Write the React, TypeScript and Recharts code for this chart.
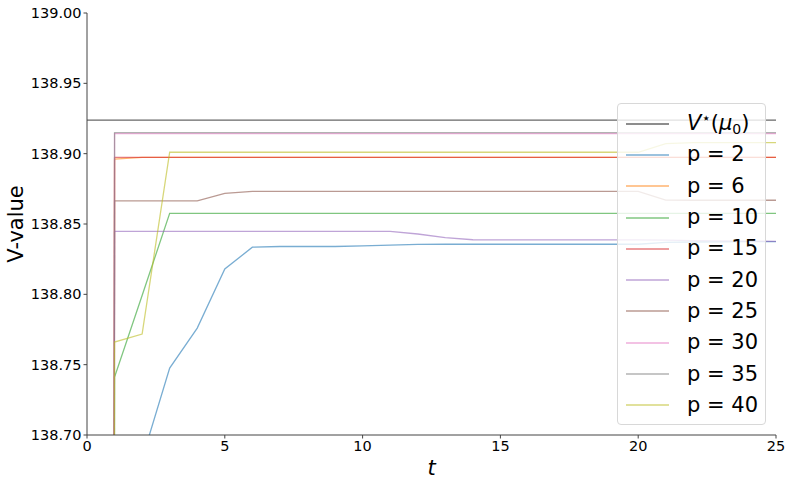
import React from "react";
import { LineChart, Line, XAxis, YAxis, ReferenceLine } from "recharts";

// time steps and value estimates
const T = [0, 1, 2, 3, 4, 5, 6, 7, 8, 9, 10, 11, 12, 13, 14, 15, 16, 17, 18, 19, 20, 21, 22, 23, 24, 25];

const V_STAR = 138.9239;

const P2 = [120.0, 137.9, 138.683, 138.7476, 138.776, 138.818, 138.8335, 138.834, 138.834, 138.834, 138.8345, 138.835, 138.8355, 138.8356, 138.8356, 138.8356, 138.8356, 138.8356, 138.8356, 138.8356, 138.8356, 138.837, 138.8372, 138.8373, 138.8374, 138.8375];
const P6 = [120.0, 138.8962, 138.8973, 138.8973, 138.8973, 138.8973, 138.8973, 138.8973, 138.8973, 138.8973, 138.8973, 138.8973, 138.8973, 138.8973, 138.8973, 138.8973, 138.8973, 138.8973, 138.8973, 138.8973, 138.8973, 138.8973, 138.8973, 138.8973, 138.8973, 138.8973];
const P10 = [120.0, 138.7412, 138.7992, 138.8576, 138.8576, 138.8576, 138.8576, 138.8576, 138.8576, 138.8576, 138.8576, 138.8576, 138.8576, 138.8576, 138.8576, 138.8576, 138.8576, 138.8576, 138.8576, 138.8576, 138.8576, 138.8576, 138.8576, 138.8576, 138.8576, 138.8576];
const P15 = [120.0, 138.8973, 138.8973, 138.8973, 138.8973, 138.8973, 138.8973, 138.8973, 138.8973, 138.8973, 138.8973, 138.8973, 138.8973, 138.8973, 138.8973, 138.8973, 138.8973, 138.8973, 138.8973, 138.8973, 138.8973, 138.8973, 138.8973, 138.8973, 138.8973, 138.8973];
const P20 = [120.0, 138.8448, 138.8448, 138.8448, 138.8448, 138.8448, 138.8448, 138.8448, 138.8448, 138.8448, 138.8448, 138.8448, 138.8429, 138.8403, 138.8388, 138.8387, 138.8387, 138.8387, 138.8387, 138.8387, 138.8387, 138.8385, 138.8382, 138.838, 138.8378, 138.8377];
const P25 = [120.0, 138.8664, 138.8664, 138.8664, 138.8664, 138.8718, 138.8732, 138.8732, 138.8732, 138.8732, 138.8732, 138.8732, 138.8732, 138.8732, 138.8732, 138.8732, 138.8732, 138.8732, 138.8732, 138.8732, 138.8732, 138.867, 138.8669, 138.8669, 138.8669, 138.8669];
const P30 = [120.0, 138.9142, 138.9142, 138.9142, 138.9142, 138.9142, 138.9142, 138.9142, 138.9142, 138.9142, 138.9142, 138.9142, 138.9142, 138.9142, 138.9142, 138.9142, 138.9142, 138.9142, 138.9142, 138.9142, 138.9142, 138.9142, 138.9142, 138.9142, 138.9142, 138.9142];
const P35 = [120.0, 138.9149, 138.9149, 138.9149, 138.9149, 138.9149, 138.9149, 138.9149, 138.9149, 138.9149, 138.9149, 138.9149, 138.9149, 138.9149, 138.9149, 138.9149, 138.9149, 138.9149, 138.9149, 138.9149, 138.9149, 138.9149, 138.9149, 138.9149, 138.9149, 138.9149];
const P40 = [120.0, 138.7661, 138.7718, 138.901, 138.901, 138.901, 138.901, 138.901, 138.901, 138.901, 138.901, 138.901, 138.901, 138.901, 138.901, 138.901, 138.901, 138.901, 138.901, 138.901, 138.901, 138.9072, 138.9078, 138.9078, 138.9078, 138.9078];

const X_TICKS = [0, 5, 10, 15, 20, 25];
const Y_TICKS = [138.7, 138.75, 138.8, 138.85, 138.9, 138.95, 139.0];

const SERIES = [
  { key: "p2", name: "p = 2", values: P2, color: "#1f77b4" },
  { key: "p6", name: "p = 6", values: P6, color: "#ff7f0e" },
  { key: "p10", name: "p = 10", values: P10, color: "#2ca02c" },
  { key: "p15", name: "p = 15", values: P15, color: "#d62728" },
  { key: "p20", name: "p = 20", values: P20, color: "#9467bd" },
  { key: "p25", name: "p = 25", values: P25, color: "#8c564b" },
  { key: "p30", name: "p = 30", values: P30, color: "#e377c2" },
  { key: "p35", name: "p = 35", values: P35, color: "#7f7f7f" },
  { key: "p40", name: "p = 40", values: P40, color: "#bcbd22" },
];

const data = T.map((t, i) => {
  const row: Record<string, number> = { t };
  SERIES.forEach((s) => {
    row[s.key] = s.values[i];
  });
  return row;
});

const FONT = "'DejaVu Sans', sans-serif";
const AXIS = "#444";
const ALPHA = 0.6;

function LegendBox() {
  const rowH = 31.3;
  const sample = (color: string) => (
    <svg width={43} height={6} style={{ marginLeft: 8, marginRight: 18, flex: "none", display: "block" }}>
      <line x1={0} x2={43} y1={3} y2={3} stroke={color} strokeOpacity={ALPHA} strokeWidth={1.5} />
    </svg>
  );
  const rows = [
    {
      label: (
        <span>
          <i>V</i>
          <sup style={{ fontSize: 15, verticalAlign: 7 }}>⋆</sup>(<i>μ</i>
          <sub style={{ fontSize: 14, verticalAlign: -4 }}>0</sub>)
        </span>
      ),
      color: "#000",
    },
    ...SERIES.map((s) => ({ label: <span>{s.name}</span>, color: s.color })),
  ];
  return (
    <div
      style={{
        position: "absolute",
        left: 617,
        top: 103,
        width: 149,
        height: 322,
        boxSizing: "border-box",
        paddingTop: 4,
        background: "rgba(255,255,255,0.8)",
        border: "1px solid #d8d8d8",
        borderRadius: 4,
        fontFamily: FONT,
        fontSize: 21,
        color: "#000",
      }}
    >
      {rows.map((r, i) => (
        <div key={i} style={{ height: rowH, display: "flex", alignItems: "center", lineHeight: 1 }}>
          {sample(r.color)}
          {r.label}
        </div>
      ))}
    </div>
  );
}

export default function App() {
  return (
    <div style={{ position: "absolute", left: 0, top: 0, width: 793, height: 485, background: "#fff" }}>
      <LineChart width={793} height={485} data={data} margin={{ top: 13, right: 17, bottom: 0, left: 0 }}>
        <XAxis
          dataKey="t"
          type="number"
          domain={[0, 25]}
          ticks={X_TICKS}
          height={50}
          stroke={AXIS}
          tickSize={3.5}
          tickMargin={2.5}
          tick={{ fill: "#000", fontSize: 14.5, fontFamily: FONT }}
          label={{ value: "t", position: "insideBottom", offset: 10, style: { fontSize: 21, fontStyle: "italic", fontFamily: FONT, fill: "#000" } }}
        />
        <XAxis xAxisId="top" orientation="top" type="number" domain={[0, 25]} height={0} tick={false} tickLine={false} stroke={AXIS} />
        <YAxis
          type="number"
          domain={[138.7, 139.0]}
          allowDataOverflow
          ticks={Y_TICKS}
          width={87}
          stroke={AXIS}
          tickSize={3.5}
          tickMargin={2}
          tickFormatter={(v: number) => v.toFixed(2)}
          tick={{ fill: "#000", fontSize: 14.5, fontFamily: FONT }}
          label={{ value: "V-value", angle: -90, position: "insideLeft", offset: 16, style: { textAnchor: "middle", fontSize: 21, fontFamily: FONT, fill: "#000" } }}
        />
        <YAxis yAxisId="right" orientation="right" width={0} tick={false} tickLine={false} stroke={AXIS} domain={[0, 1]} />
        <ReferenceLine y={V_STAR} stroke="#000" strokeOpacity={ALPHA} strokeWidth={1.2} />
        {SERIES.map((s) => (
          <Line
            key={s.key}
            dataKey={s.key}
            name={s.name}
            type="linear"
            stroke={s.color}
            strokeOpacity={ALPHA}
            strokeWidth={1.3}
            dot={false}
            activeDot={false}
            isAnimationActive={false}
          />
        ))}
      </LineChart>
      <LegendBox />
    </div>
  );
}
